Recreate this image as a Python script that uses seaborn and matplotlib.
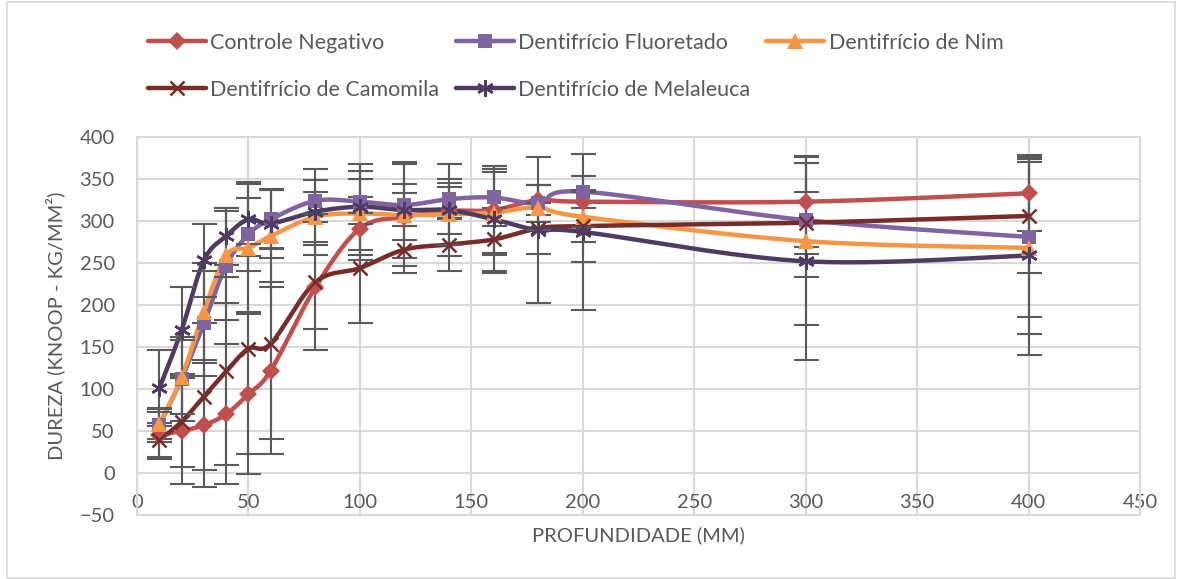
import numpy as np
import pandas as pd
import matplotlib
matplotlib.use('Agg')
import matplotlib.pyplot as plt
import seaborn as sns
from matplotlib.lines import Line2D
from matplotlib.patches import Rectangle

sns.set_theme(style='white')
plt.rcParams['font.family'] = ['Lato', 'DejaVu Sans']

# depth (x) values
profundidade = [10, 20, 30, 40, 50, 60, 80, 100, 120, 140, 160, 180, 200, 300, 400]

series_names = ['Controle Negativo', 'Dentifrício Fluoretado', 'Dentifrício de Nim',
                'Dentifrício de Camomila', 'Dentifrício de Melaleuca']

controle   = [45, 50, 57, 70, 94, 122, 221, 291, 305, 312, 313, 325, 323, 323, 333]
fluoretado = [57, 112, 178, 247, 284, 302, 324, 323, 319, 326, 328, 321, 335, 301, 281]
nim        = [58, 114, 192, 259, 268, 282, 305, 309, 307, 308, 310, 316, 305, 276, 268]
camomila   = [39, 61, 91, 121, 148, 154, 227, 244, 266, 272, 278, 291, 294, 298, 306]
melaleuca  = [101, 170, 253, 282, 302, 297, 311, 317, 313, 313, 302, 289, 287, 252, 259]

# standard deviations (error bars)
err_controle   = [28, 63, 74, 83, 95, 99, 50, 37, 28, 28, 53, 18, 30, 54, 45]
err_fluoretado = [20, 50, 62, 65, 43, 35, 25, 27, 25, 24, 34, 22, 19, 68, 95]
err_nim        = [18, 44, 58, 57, 76, 55, 30, 50, 61, 37, 48, 27, 30, 100, 102]
err_camomila   = [20, 54, 88, 112, 125, 114, 81, 66, 28, 32, 37, 30, 43, 37, 68]
err_melaleuca  = [45, 52, 44, 34, 44, 41, 51, 51, 57, 55, 64, 87, 93, 117, 118]

values = [controle, fluoretado, nim, camomila, melaleuca]
errors = [err_controle, err_fluoretado, err_nim, err_camomila, err_melaleuca]
colors = ['#C0504D', '#8064A2', '#F79646', '#772C2A', '#4D3B62']
markers = ['D', 's', '^', 'x', (6, 2, 0)]
msizes = [9, 10, 11, 10, 12]

text_color = '#595959'
grid_color = '#D9D9D9'


def smooth(x, y, n=30):
    # Excel-like smoothed line (Catmull-Rom as cubic Bezier)
    p = np.column_stack([x, y]).astype(float)
    pts = np.vstack([p[0], p, p[-1]])
    out = []
    t = np.linspace(0, 1, n)[:, None]
    for i in range(1, len(pts) - 2):
        p0, p1, p2, p3 = pts[i - 1], pts[i], pts[i + 1], pts[i + 2]
        c1 = p1 + (p2 - p0) / 6
        c2 = p2 - (p3 - p1) / 6
        seg = ((1 - t) ** 3) * p1 + 3 * ((1 - t) ** 2) * t * c1 + 3 * (1 - t) * t ** 2 * c2 + t ** 3 * p2
        out.append(seg if i == 1 else seg[1:])
    out = np.vstack(out)
    return out[:, 0], out[:, 1]


fig = plt.figure(figsize=(11.84, 5.79), dpi=100)
fig.patches.append(Rectangle((7 / 1184, 1 / 579), 1168 / 1184, 576 / 579, transform=fig.transFigure,
                             fill=False, edgecolor=grid_color, linewidth=1.2))
ax = fig.add_axes([137 / 1184, 1 - 515 / 579, (1140 - 137) / 1184, (515 - 137) / 579])

handles = []
for name, vals, errs, c, m, ms in zip(series_names, values, errors, colors, markers, msizes):
    ax.errorbar(profundidade, vals, yerr=errs, fmt='none', ecolor='#5A5A5A', elinewidth=1.5,
                capsize=9, capthick=1.5, zorder=2.5)
    sx, sy = smooth(profundidade, vals)
    df_line = pd.DataFrame({'x': sx, 'y': sy})
    sns.lineplot(data=df_line, x='x', y='y', sort=False, estimator=None, color=c, linewidth=3.2,
                 ax=ax, zorder=2)
    mew = 1.8 if m in ('x', (6, 2, 0)) else 0
    ax.plot(profundidade, vals, linestyle='none', marker=m, markersize=ms, color=c,
            markeredgecolor=c, markeredgewidth=mew, zorder=3)
    handles.append(Line2D([], [], color=c, linewidth=3.2, marker=m, markersize=ms,
                          markeredgecolor=c, markeredgewidth=mew))

ax.set_xlim(0, 450)
ax.set_ylim(-50, 400)
ax.set_xticks(np.arange(0, 451, 50))
ax.set_yticks(np.arange(-50, 401, 50))
ax.grid(True, color=grid_color, linewidth=1.5)
ax.set_axisbelow(True)
for s in ax.spines.values():
    s.set_color(grid_color)
    s.set_linewidth(1.5)
ax.tick_params(axis='both', length=0, labelsize=14.5, labelcolor=text_color)
ax.tick_params(axis='y', pad=16)
ax.tick_params(axis='x', pad=-15)
ax.set_xlabel('PROFUNDIDADE (MM)', fontsize=14.5, color=text_color, labelpad=8)
ax.set_ylabel('DUREZA (KNOOP - KG/MM²)', fontsize=14.5, color=text_color, labelpad=10)

order = [0, 3, 1, 4, 2]
fig.legend([handles[i] for i in order], [series_names[i] for i in order], ncol=3,
           loc='upper left', bbox_to_anchor=(148 / 1184, 1 - 33 / 579), frameon=False,
           fontsize=15.5, labelcolor=text_color, handlelength=2.7, handletextpad=0.2,
           columnspacing=0.75, labelspacing=1.25, borderpad=0, borderaxespad=0)

fig.savefig('out.png', dpi=100)
